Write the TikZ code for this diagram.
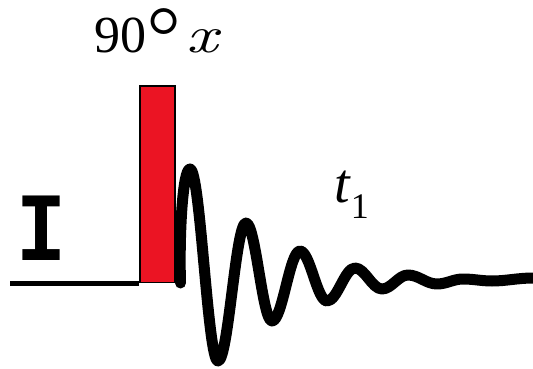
\documentclass[tikz,border=0pt]{standalone}
\usepackage{fontspec}
\setmainfont{Liberation Serif}
\newfontfamily\slabmono{Liberation Mono}
\newfontfamily\lmrm{lmroman10-regular.otf}
\newfontfamily\lmit{lmroman10-italic.otf}
\definecolor{pulsered}{RGB}{235,20,35}
\begin{document}
\begin{tikzpicture}[x=1pt,y=-1pt,
  lbl/.style={anchor=base west, inner sep=0pt},
  wave/.style={line width=11pt, line cap=round, line join=round},
  axisline/.style={line width=5pt}]
\useasboundingbox (0,0) rectangle (533,369);
% pulse
\node[draw, line width=1.5pt, fill=pulsered, minimum width=35pt, minimum height=196pt,
      inner sep=0pt, anchor=south west] (pulse) at (139,283) {};
% base line
\coordinate (start) at (10,283);
\draw[axisline] (start) -- (pulse.south west);
% FID
\coordinate (w0) at ([xshift=5pt]pulse.south east);
\draw[wave] (w0) .. controls (179,230) and (183,169) .. (190,169)
  .. controls (200.4,169) and (207.6,361) .. (218,361)
  .. controls (228.4,361) and (235.6,223) .. (246,223)
  .. controls (255.6,223) and (262.4,321) .. (272,321)
  .. controls (282.4,321) and (289.6,251) .. (300,251)
  .. controls (310,251) and (317,301) .. (327,301)
  .. controls (337.4,301) and (344.6,268) .. (355,268)
  .. controls (365,268) and (372,289) .. (382,289)
  .. controls (391.6,289) and (398.4,275) .. (408,275)
  .. controls (418.7,275) and (426.3,284) .. (437,284)
  .. controls (446.6,284) and (453.4,279) .. (463,279)
  .. controls (473.7,279) and (481.3,281) .. (492,281)
  .. controls (506,281) and (518,278) .. (533,278);
% labels
\node[lbl, font=\fontsize{52}{52}\selectfont] (pulselabel) at (94,53)
  {90\raisebox{-19pt}{\scalebox{1.8}{\lmrm\textdegree}}\hspace{5pt}\scalebox{1.3}[1]{\lmit x}};
\node[lbl, font=\fontsize{56}{56}\selectfont] (tlabel) at (334,202)
  {\textit{t}\raisebox{-16pt}{\fontsize{36}{36}\selectfont 1}};
\node[lbl, font=\fontsize{98}{98}\selectfont\slabmono\bfseries] (spin) at (16,260)
  {\scalebox{0.85}[1]{I}};
\end{tikzpicture}
\end{document}
